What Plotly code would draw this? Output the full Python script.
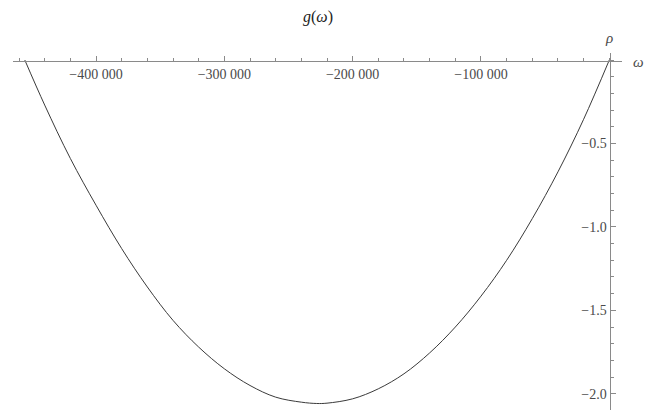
import plotly.graph_objects as go

# Curve samples of g(omega): frequency omega and response rho
omega = [-455500, -440000, -420000, -400000, -380000, -360000, -340000,
         -320000, -300000, -280000, -260000, -240000, -228000, -220000,
         -200000, -180000, -160000, -140000, -120000, -100000, -80000,
         -60000, -40000, -20000, 0]
rho = [0.0, -0.27, -0.59, -0.87, -1.13, -1.36, -1.56,
       -1.72, -1.85, -1.95, -2.02, -2.05, -2.058, -2.056,
       -2.03, -1.97, -1.88, -1.755, -1.60, -1.415, -1.20,
       -0.95, -0.67, -0.355, 0.0]

x_tick_vals = [-400000, -300000, -200000, -100000]
x_tick_text = ["\u2212400 000", "\u2212300 000", "\u2212200 000", "\u2212100 000"]
y_tick_vals = [-0.5, -1.0, -1.5, -2.0]
y_tick_text = ["\u22120.5", "\u22121.0", "\u22121.5", "\u22122.0"]

W, H = 648, 410
serif = "Liberation Serif, DejaVu Serif, serif"
axis_grey = "#8a8a8a"
label_grey = "#4a4a4a"

fig = go.Figure()
fig.add_trace(go.Scatter(
    x=omega, y=rho, mode="lines",
    line=dict(color="#3a3a3a", width=1, shape="spline", smoothing=1.0),
    hoverinfo="skip", showlegend=False))

fig.update_layout(
    width=W, height=H,
    margin=dict(l=0, r=0, t=0, b=0),
    paper_bgcolor="white", plot_bgcolor="white",
    xaxis=dict(
        domain=[13 / W, 622 / W], range=[-464700, 9900],
        anchor="free", position=1 - 61 / H, side="bottom",
        showgrid=False, zeroline=False,
        showline=True, linecolor=axis_grey, linewidth=1,
        ticks="inside", ticklen=5, tickcolor=axis_grey, tickwidth=1,
        tickvals=x_tick_vals, ticktext=x_tick_text,
        tickfont=dict(family=serif, size=14, color=label_grey),
        minor=dict(ticks="inside", dtick=20000, tick0=0, ticklen=3,
                   tickcolor=axis_grey, showgrid=False),
    ),
    yaxis=dict(
        domain=[0, 1 - 53 / H], range=[-2.097, 0.042],
        anchor="free", position=609.5 / W, side="left",
        showgrid=False, zeroline=False,
        showline=True, linecolor=axis_grey, linewidth=1,
        ticks="inside", ticklen=5, tickcolor=axis_grey, tickwidth=1,
        tickvals=y_tick_vals, ticktext=y_tick_text,
        tickfont=dict(family=serif, size=14, color=label_grey),
        minor=dict(ticks="inside", dtick=0.1, tick0=0, ticklen=3,
                   tickcolor=axis_grey, showgrid=False),
    ),
    annotations=[
        dict(text="<i>g</i>(<i>\u03c9</i>)", x=318 / W, y=1 - 17 / H, xref="paper", yref="paper",
             xanchor="center", yanchor="middle",
             showarrow=False, font=dict(family=serif, size=16, color="#222222")),
        dict(text="<i>\u03c1</i>", x=609 / W, y=1 - 38 / H, xref="paper", yref="paper",
             xanchor="center", yanchor="middle",
             showarrow=False, font=dict(family=serif, size=15, color=label_grey)),
        dict(text="<i>\u03c9</i>", x=638 / W, y=1 - 62 / H, xref="paper", yref="paper",
             xanchor="center", yanchor="middle",
             showarrow=False, font=dict(family=serif, size=15, color=label_grey)),
    ],
)

fig.write_html("out.html")
